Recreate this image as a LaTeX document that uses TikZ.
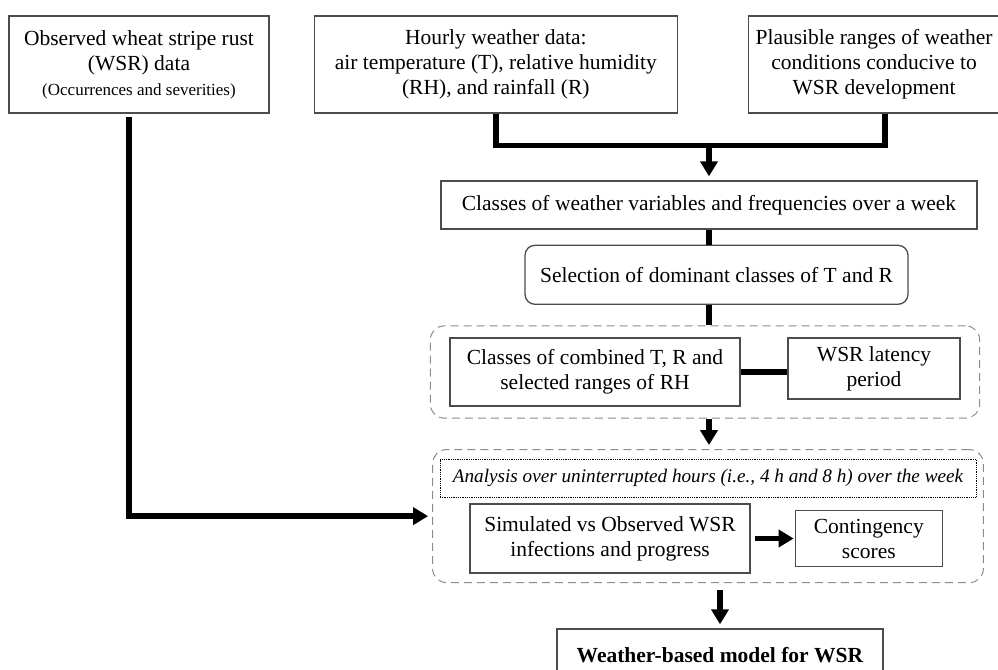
\documentclass[tikz,border=0pt]{standalone}
\usepackage{fontspec}
\setmainfont{Liberation Serif}
\usetikzlibrary{arrows.meta}
\usetikzlibrary{positioning}
\usetikzlibrary{fit}
\tikzset {
  flow path/.style = {
    draw = black,
    line width = 5.5pt
  },
  % path style with an arrow at the end
  arr/.style = {
    flow path,
    -{Triangle[width = 17pt, length = 15pt]},
    shorten > = 4pt
  },
  % path style with no arrows
  narr/.style = {
    flow path
  }
}
\tikzset {
  flow node/.style = {
    draw = black!70,
    line width = 1.3pt,
    align = center,
    inner sep = 2pt,
    font = \fontsize{21.5}{25}\selectfont
  },
  % plain process box
  proc/.style = {
    flow node,
    rectangle
  },
  % rounded process box
  rproc/.style = {
    flow node,
    rounded corners = 10pt
  },
  % dashed frame round a group of boxes
  group/.style = {
    draw = black!45,
    dash pattern = on 8pt off 5pt,
    line width = 1pt,
    rounded corners = 14pt
  },
  % dotted heading inside a group
  note/.style = {
    flow node,
    draw = black,
    line width = 0.8pt,
    densely dotted,
    font = \fontsize{19.2}{23}\selectfont\itshape
  },
  node distance = 0.5cm
}

\begin{document}
\begin{tikzpicture}[x = 1pt, y = 1pt]
    \useasboundingbox (0, 0) rectangle (998, -669);
    \clip (0, 0) rectangle (998, -669);
    \node[proc, minimum width = 260pt, minimum height = 97pt] (wsr) at (139, -64.5) {Observed wheat stripe rust\\(WSR) data\\{\fontsize{17}{22}\selectfont (Occurrences and severities)}};
    \node[proc, minimum width = 363pt, minimum height = 97pt] (hourly) [right = 44pt of wsr] {Hourly weather data:\\air temperature (T), relative humidity\\(RH), and rainfall (R)};
    \node[proc, minimum width = 251pt, minimum height = 97pt] (ranges) [right = 70pt of hourly] {Plausible ranges of weather\\conditions conducive to\\WSR development};
    \node[proc, minimum width = 536pt, minimum height = 48pt] (classes) at (709, -205) {Classes of weather variables and frequencies over a week};
    \coordinate [above = 35pt of classes] (merge);
    \node[rproc, minimum width = 383pt, minimum height = 59pt] (select) [below = 15pt of classes, xshift = 7.5pt] {Selection of dominant classes of T and R};
    \node[proc, minimum width = 290pt, minimum height = 68pt] (combined) at (595, -372) {Classes of combined T, R and\\selected ranges of RH};
    \node[proc, minimum width = 172pt, minimum height = 61pt] (latency) at (874, -368.5) {WSR latency\\period};
    \node[group, fit = (combined) (latency), inner xsep = 19pt, inner ysep = 11.5pt] (frame1) {};
    \node[note, minimum width = 536pt, minimum height = 38pt] (analysis) at (708, -478) {Analysis over uninterrupted hours (i.e., 4 h and 8 h) over the week};
    \node[proc, minimum width = 280pt, minimum height = 69pt] (simulated) at (610, -538.5) {Simulated vs Observed WSR\\infections and progress};
    \node[proc, minimum width = 147pt, minimum height = 56pt] (scores) [right = 44pt of simulated] {Contingency\\scores};
    \node[group, fit = (analysis) (simulated) (scores), inner xsep = 7pt, inner ysep = 9pt] (frame2) {};
    \node[proc, minimum width = 326pt, minimum height = 52pt] (model) at (720, -655) {\textbf{Weather-based model for WSR}};

    \draw[narr] (hourly.south) |- (merge) -| ([xshift = 11pt]ranges.south);
    \draw[arr] (merge) -- (classes);
    \draw[narr] (classes) -- (classes.south |- select.north);
    \draw[narr] (select.south -| classes.south) -- (classes.south |- frame1.north);
    \draw[narr] (combined.east) -- (combined.east -| latency.west);
    \draw[arr] (frame1.south -| classes) -- (frame2.north -| classes);
    \draw[arr, shorten < = 3pt] ([xshift = -10pt]wsr.south) |- (frame2.west);
    \draw[arr, line width = 4.5pt, shorten < = 4pt, shorten > = 1pt] (simulated.east) -- (simulated.east -| scores.west);
    \draw[arr, shorten < = 7pt] (frame2.south -| model) -- (model);
\end{tikzpicture}
\end{document}
